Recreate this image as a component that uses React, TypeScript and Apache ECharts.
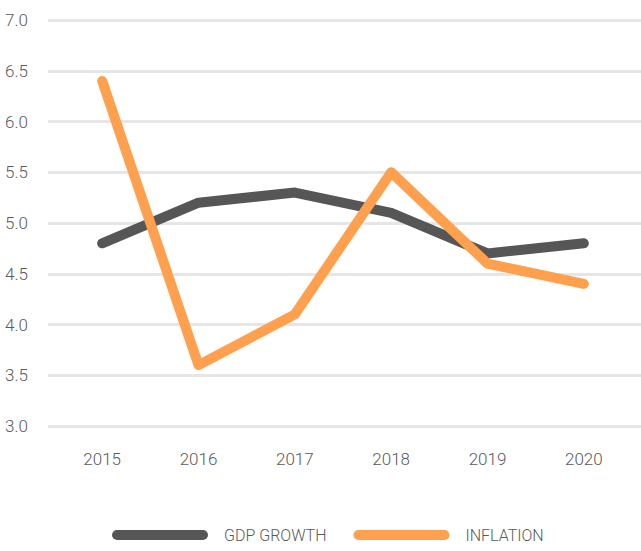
import React, { useEffect, useRef } from "react";
import * as echarts from "echarts";

const years = ["2015", "2016", "2017", "2018", "2019", "2020"];
const gdpGrowth = [4.8, 5.2, 5.3, 5.1, 4.7, 4.8];
const inflation = [6.4, 3.6, 4.1, 5.5, 4.6, 4.4];
const seriesNames = ["GDP GROWTH", "INFLATION"];

const FONT = "Roboto, 'Liberation Sans', sans-serif";
const WEIGHT = 300;
const TEXT = "#5a5a5a";
const pill = "path://M5,0 H91 A5,5 0 0 1 91,10 H5 A5,5 0 0 1 5,0 Z";

export default function App() {
  const ref = useRef<HTMLDivElement>(null);
  useEffect(() => {
    document.body.style.margin = "0";
    const chart = echarts.init(ref.current!, null, { renderer: "svg" });
    chart.setOption({
      animation: false,
      backgroundColor: "#ffffff",
      grid: [
        { left: 48, right: 0, top: 20, height: 406 },
        { left: 54, right: 9, top: 20, height: 406 },
      ],
      xAxis: [
        { type: "value", gridIndex: 0, show: false, min: 0, max: 1 },
        {
          type: "category",
          gridIndex: 1,
          data: years,
          boundaryGap: true,
          axisLine: { show: false },
          axisTick: { show: false },
          splitLine: { show: false },
          axisLabel: { color: TEXT, fontFamily: FONT, fontWeight: WEIGHT, fontSize: 17, margin: 24 },
        },
      ],
      yAxis: [
        {
          type: "value",
          gridIndex: 0,
          min: 3,
          max: 7,
          interval: 0.5,
          axisLine: { show: false },
          axisTick: { show: false },
          axisLabel: {
            color: TEXT,
            fontFamily: FONT,
            fontWeight: WEIGHT,
            fontSize: 17,
            margin: 20,
            formatter: (v: number) => v.toFixed(1),
          },
          splitLine: { lineStyle: { color: "#e6e6e6", width: 3 } },
        },
        { type: "value", gridIndex: 1, min: 3, max: 7, show: false },
      ],
      legend: {
        left: 112,
        top: 527,
        padding: 0,
        itemWidth: 96,
        itemHeight: 10,
        itemGap: 27,
        icon: pill,
        textStyle: { color: TEXT, fontFamily: FONT, fontWeight: WEIGHT, fontSize: 16, padding: [0, 0, 0, 11] },
        data: seriesNames,
      },
      series: [
        {
          name: seriesNames[0],
          type: "line",
          xAxisIndex: 1,
          yAxisIndex: 1,
          data: gdpGrowth,
          symbol: "none",
          color: "#565656",
          lineStyle: { width: 10, color: "#565656", cap: "round", join: "round" },
        },
        {
          name: seriesNames[1],
          type: "line",
          xAxisIndex: 1,
          yAxisIndex: 1,
          data: inflation,
          symbol: "none",
          color: "#ffa04f",
          lineStyle: { width: 10, color: "#ffa04f", cap: "round", join: "round" },
        },
      ],
    });
    return () => chart.dispose();
  }, []);
  return <div ref={ref} style={{ width: 641, height: 551 }} />;
}
